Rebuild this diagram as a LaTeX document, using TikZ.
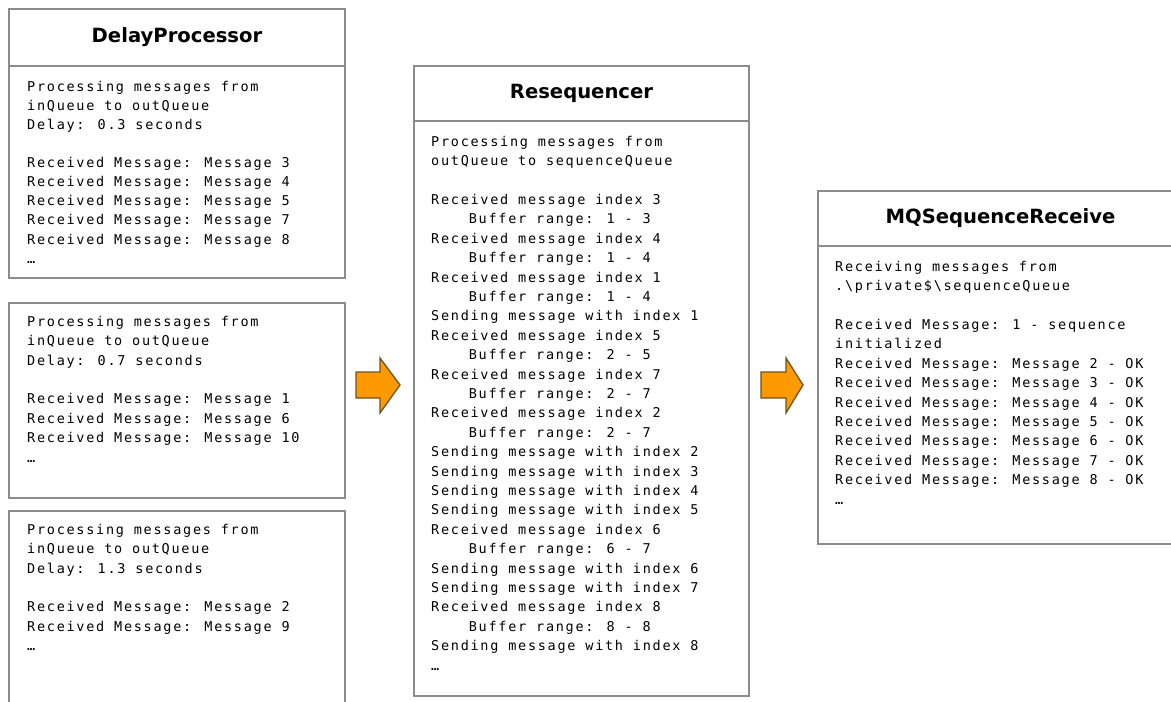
\documentclass[tikz,border=0pt]{standalone}
\usepackage{fontspec}
\newfontfamily\monofont[LetterSpace=12.8]{DejaVu Sans Mono}
\newfontfamily\titlefont{DejaVu Sans}
\definecolor{boxgray}{HTML}{8C8C8C}
\definecolor{arrowfill}{HTML}{FF9900}
\definecolor{arrowedge}{HTML}{6B5320}
\newcommand\fl{\rule{0pt}{11pt}}
\newcommand\ind{\phantom{XXXX}}
\begin{document}
\begin{tikzpicture}[x=1pt,y=-1pt,
  boxrect/.style={draw=boxgray,line width=2pt,fill=white,inner sep=0pt,anchor=north west},
  titletext/.style={font=\titlefont\bfseries\fontsize{19.6}{22}\selectfont,inner sep=0pt,text=black},
  bodytext/.style={font=\monofont\fontsize{13.5}{19.4}\selectfont,align=left,inner sep=0pt,anchor=north west,text=black},
  blockarrow/.style={fill=arrowfill,draw=arrowedge,line width=1.3pt,line join=miter}]
\path[use as bounding box] (0,0) rectangle (1171,702);
\begin{scope}
\clip (0,0) rectangle (1171,702);
% DelayProcessor box 1
\node[boxrect,minimum width=336pt,minimum height=57pt] (dpt) at (8,8) {};
\node[boxrect,minimum width=336pt,minimum height=212pt] (dpb) at (8,65) {};
\node[titletext] (dptitle) at (dpt.center) {DelayProcessor};
% box 2
\node[boxrect,minimum width=336pt,minimum height=195pt] (dpb2) at (8,302) {};
% box 3
\node[boxrect,minimum width=336pt,minimum height=240pt] (dpb3) at (8,510) {};
% Resequencer
\node[boxrect,minimum width=335pt,minimum height=55pt] (rst) at (413,65) {};
\node[boxrect,minimum width=335pt,minimum height=575pt] (rsb) at (413,120) {};
\node[titletext] (rstitle) at (rst.center) {Resequencer};
% MQSequenceReceive
\node[boxrect,minimum width=365pt,minimum height=55pt] (mqt) at (817,190) {};
\node[boxrect,minimum width=365pt,minimum height=298pt] (mqb) at (817,245) {};
\node[titletext] (mqtitle) at (mqt.center) {MQSequenceReceive};
\end{scope}
% texts
\node[bodytext,font=\monofont\fontsize{13.5}{19.1}\selectfont] (dptx) at (27,80) {\fl Processing messages from\\inQueue to outQueue\\Delay: 0.3 seconds\\\mbox{}\\Received Message: Message 3\\Received Message: Message 4\\Received Message: Message 5\\Received Message: Message 7\\Received Message: Message 8\\…};
\node[bodytext] (dptx2) at (27,315) {\fl Processing messages from\\inQueue to outQueue\\Delay: 0.7 seconds\\\mbox{}\\Received Message: Message 1\\Received Message: Message 6\\Received Message: Message 10\\…};
\node[bodytext] (dptx3) at (27,523) {\fl Processing messages from\\inQueue to outQueue\\Delay: 1.3 seconds\\\mbox{}\\Received Message: Message 2\\Received Message: Message 9\\…};
\node[bodytext] (rstx) at (431,135) {\fl Processing messages from\\outQueue to sequenceQueue\\\mbox{}\\
Received message index 3\\\ind Buffer range: 1 - 3\\
Received message index 4\\\ind Buffer range: 1 - 4\\
Received message index 1\\\ind Buffer range: 1 - 4\\
Sending message with index 1\\
Received message index 5\\\ind Buffer range: 2 - 5\\
Received message index 7\\\ind Buffer range: 2 - 7\\
Received message index 2\\\ind Buffer range: 2 - 7\\
Sending message with index 2\\Sending message with index 3\\Sending message with index 4\\Sending message with index 5\\
Received message index 6\\\ind Buffer range: 6 - 7\\
Sending message with index 6\\Sending message with index 7\\
Received message index 8\\\ind Buffer range: 8 - 8\\
Sending message with index 8\\…};
\node[bodytext] (mqtx) at (835,260) {\fl Receiving messages from\\.\textbackslash private\$\textbackslash sequenceQueue\\\mbox{}\\
Received Message: 1 - sequence\\initialized\\
Received Message: Message 2 - OK\\Received Message: Message 3 - OK\\Received Message: Message 4 - OK\\Received Message: Message 5 - OK\\Received Message: Message 6 - OK\\Received Message: Message 7 - OK\\Received Message: Message 8 - OK\\…};
% arrows
\draw[blockarrow] (356,372) -- (380,372) -- (380,358) -- (400,385) -- (380,413) -- (380,398) -- (356,398) -- cycle;
\draw[blockarrow] (761,372) -- (786,372) -- (786,358) -- (803,385) -- (786,413) -- (786,398) -- (761,398) -- cycle;
\end{tikzpicture}
\end{document}
